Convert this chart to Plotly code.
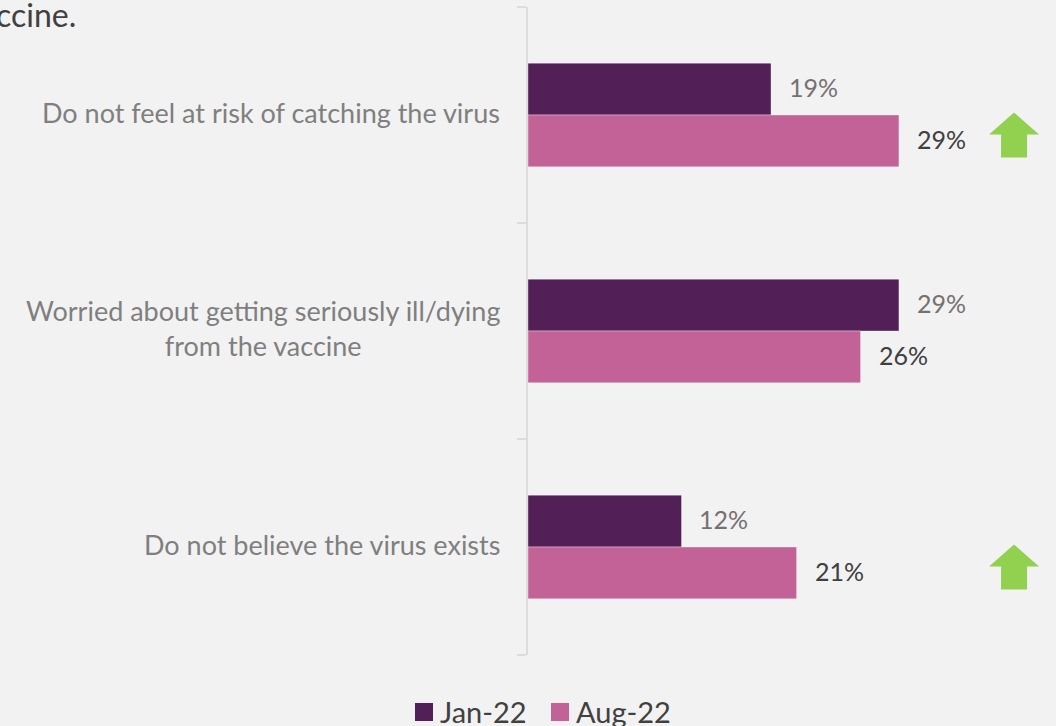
import plotly.graph_objects as go

# Survey reasons (top to bottom) and the share of respondents per wave
categories = [
    "Do not feel at risk of catching the virus",
    "Worried about getting seriously ill/dying<br>from the vaccine",
    "Do not believe the virus exists",
]
series_names = ["Jan-22", "Aug-22"]
jan_22 = [19, 29, 12]
aug_22 = [29, 26, 21]
# Reasons that show a significant increase between the waves
increased = [True, False, True]

JAN_COLOR = "#521F56"
AUG_COLOR = "#C26297"
ARROW_COLOR = "#92D050"
BG = "#F2F2F2"
FONT = "Lato"
BAR_W = 0.24

W, H = 1056, 726
M_L, M_R, M_T, M_B = 528, 0, 7, 71
PLOT_W, PLOT_H = W - M_L - M_R, H - M_T - M_B


def px_to_paper(px, py):
    """Convert page pixels (top-left origin) to paper coordinates."""
    return (px - M_L) / PLOT_W, (H - M_B - py) / PLOT_H


ypos = list(range(len(categories)))
bar_line = dict(width=1, color="rgba(255,255,255,0.35)")

fig = go.Figure()
fig.add_trace(go.Bar(
    name=series_names[0], x=jan_22, y=ypos, orientation="h",
    width=BAR_W, offset=-BAR_W, marker=dict(color=JAN_COLOR, line=bar_line),
))
fig.add_trace(go.Bar(
    name=series_names[1], x=aug_22, y=ypos, orientation="h",
    width=BAR_W, offset=0, marker=dict(color=AUG_COLOR, line=bar_line),
))

annotations = []
# Value labels to the right of each bar
for i, (a, b) in enumerate(zip(jan_22, aug_22)):
    annotations.append(dict(x=a, y=i - BAR_W / 2, xref="x", yref="y", text=f"{a}%",
                            showarrow=False, xanchor="left", xshift=16, yshift=2,
                            font=dict(family=FONT, size=25, color="#767171")))
    annotations.append(dict(x=b, y=i + BAR_W / 2, xref="x", yref="y", text=f"{b}%",
                            showarrow=False, xanchor="left", xshift=16, yshift=2,
                            font=dict(family=FONT, size=25, color="#404040")))
# Category labels, centred lines, right of the axis gap
for i, c in enumerate(categories):
    annotations.append(dict(x=0, y=i, xref="x", yref="y", text=c, showarrow=False,
                            xanchor="right", xshift=-26, yshift=3, align="center",
                            font=dict(family=FONT, size=27, color="#7F7F7F")))
# Heading text running in from the left edge
hx, hy = px_to_paper(78, -7)
annotations.append(dict(x=hx, y=hy, xref="paper", yref="paper", text="vaccine.",
                        showarrow=False, xanchor="right", yanchor="top",
                        font=dict(family=FONT, size=32, color="#404040")))

shapes = []
# Up arrows next to increased reasons
arrow_path = "M 0 22 L 25 0 L 13 0 L 13 -23 L -13 -23 L -13 0 L -25 0 Z"
for i, up in enumerate(increased):
    if up:
        shapes.append(dict(type="path", path=arrow_path, xref="x", yref="y",
                           xsizemode="pixel", ysizemode="pixel",
                           xanchor=38.0, yanchor=i + 0.09,
                           fillcolor=ARROW_COLOR, line=dict(width=0)))

# Legend: square swatch + series name, centred below the plot
legend_items = [(series_names[0], JAN_COLOR, 415), (series_names[1], AUG_COLOR, 551)]
for name, color, left in legend_items:
    x0, y0 = px_to_paper(left, 721)
    x1, y1 = px_to_paper(left + 18, 703)
    shapes.append(dict(type="rect", xref="paper", yref="paper", x0=x0, x1=x1, y0=y0, y1=y1,
                       fillcolor=color, line=dict(width=0)))
    tx, ty = px_to_paper(left + 23, 711)
    annotations.append(dict(x=tx, y=ty, xref="paper", yref="paper", text=name,
                            showarrow=False, xanchor="left", yanchor="middle",
                            font=dict(family=FONT, size=29, color="#404040")))

fig.update_layout(
    width=W, height=H,
    margin=dict(l=M_L, r=M_R, t=M_T, b=M_B),
    paper_bgcolor=BG, plot_bgcolor=BG,
    barmode="overlay",
    showlegend=False,
    xaxis=dict(range=[0, 41.28], visible=False, fixedrange=True),
    yaxis=dict(range=[2.5, -0.5], showline=True, linecolor="#DCDCDC", linewidth=2,
               tickmode="array", tickvals=[-0.5, 0.5, 1.5, 2.5], ticktext=["", "", "", ""],
               ticks="outside", ticklen=9, tickcolor="#DCDCDC", tickwidth=2,
               showgrid=False, zeroline=False),
    annotations=annotations,
    shapes=shapes,
    font=dict(family=FONT),
)

fig.write_html("out.html")
